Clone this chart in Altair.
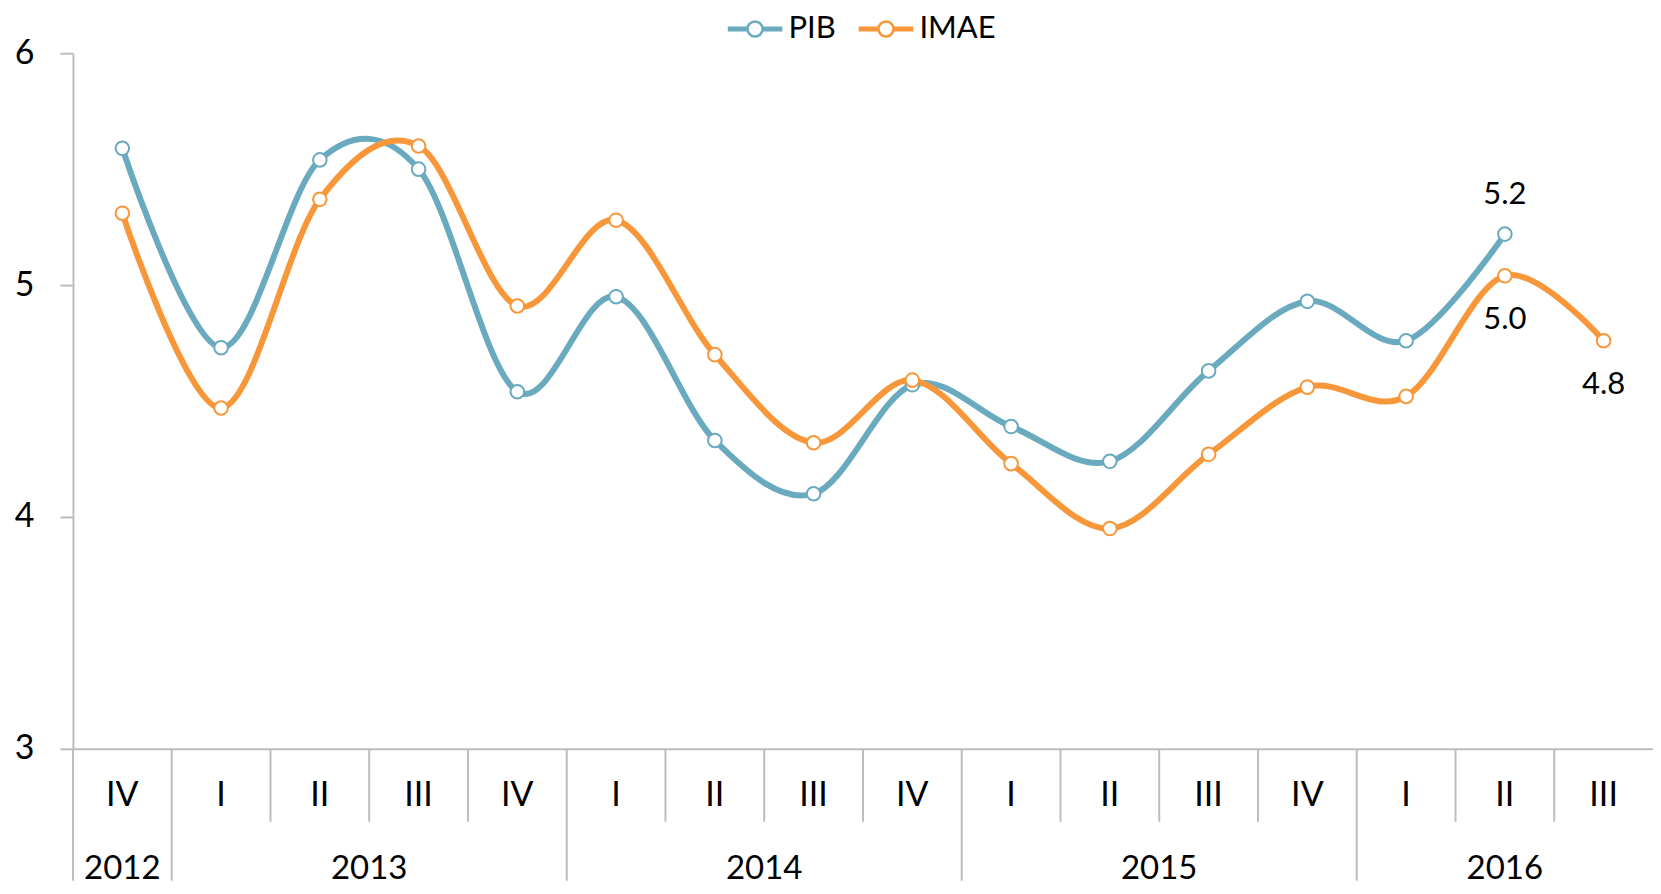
import altair as alt
import pandas as pd

# ---------------- data ----------------
quarters = ["IV", "I", "II", "III", "IV", "I", "II", "III", "IV",
            "I", "II", "III", "IV", "I", "II", "III"]
years = ["2012", "2013", "2013", "2013", "2013", "2014", "2014", "2014", "2014",
         "2015", "2015", "2015", "2015", "2016", "2016", "2016"]
pib = [5.59, 4.73, 5.54, 5.50, 4.54, 4.95, 4.33, 4.10, 4.57,
       4.39, 4.24, 4.63, 4.93, 4.76, 5.22, None]
imae = [5.31, 4.47, 5.37, 5.60, 4.91, 5.28, 4.70, 4.32, 4.59,
        4.23, 3.95, 4.27, 4.56, 4.52, 5.04, 4.76]
series_names = ["PIB", "IMAE"]
series_colors = ["#6aaabf", "#f7973a"]
y_ticks = [3, 4, 5, 6]
# annotated points: (index, series)
ann_above = [(14, "PIB")]
ann_below = [(14, "IMAE"), (15, "IMAE")]

# ---------------- tables ----------------
FONT = "Lato"
GRAY = "#bdbdbd"
W, H = 1581, 696

series_vals = {"PIB": pib, "IMAE": imae}
rows = []
for name in series_names:
    for i, v in enumerate(series_vals[name]):
        if v is not None:
            rows.append({"idx": i, "serie": name, "valor": v})
df = pd.DataFrame(rows)

cats = pd.DataFrame({"idx": list(range(len(quarters))), "trimestre": quarters, "anio": years})
year_df = cats.groupby("anio", as_index=False)["idx"].mean()

bounds = [{"pos": -0.5, "tipo": "anio"}]
for i in range(len(quarters) - 1):
    bounds.append({"pos": i + 0.5, "tipo": "anio" if years[i] != years[i + 1] else "trim"})
bounds_df = pd.DataFrame(bounds)

above_df = pd.DataFrame([{"idx": i, "serie": s, "valor": series_vals[s][i]} for i, s in ann_above])
below_df = pd.DataFrame([{"idx": i, "serie": s, "valor": series_vals[s][i]} for i, s in ann_below])

# ---------------- scales / axes ----------------
xs = alt.Scale(domain=[-0.5, len(quarters) - 0.5], nice=False, zero=False)
ys = alt.Scale(domain=[min(y_ticks), max(y_ticks)], nice=False, zero=False)

x_axis = alt.Axis(labels=False, ticks=False, grid=False, domain=True,
                  domainColor=GRAY, domainWidth=2, title=None)
y_axis = alt.Axis(values=y_ticks, tickSize=13, tickColor=GRAY, tickWidth=2,
                  domainColor=GRAY, domainWidth=2, labelFontSize=34, labelFont=FONT,
                  labelColor="black", labelPadding=26, grid=False, title=None, format="d")

# stroke-only legend symbol (unit = 13px): two bar segments and a ring,
# drawn to the right of the symbol centre so the 26px layout box stays compact
SYMBOL = ("M-1,-0.1 L0.34,-0.1 L0.34,0.1 L-1,0.1 Z "
          "M1.66,-0.1 L3,-0.1 L3,0.1 L1.66,0.1 Z "
          "M0.42,0 A0.58,0.58 0 1,1 1.58,0 A0.58,0.58 0 1,1 0.42,0 Z")

legend = alt.Legend(orient="none", legendX=654, legendY=-40, direction="horizontal",
                    title=None, labelFontSize=31, labelFont=FONT, labelColor="black",
                    symbolType=SYMBOL, symbolSize=676, symbolStrokeWidth=2.6,
                    symbolFillColor="white", symbolOpacity=1,
                    labelOffset=31, columnPadding=18)

serie_scale = alt.Scale(domain=series_names, range=series_colors)
color = alt.Color("serie:N", scale=serie_scale, legend=legend)

x_enc = alt.X("idx:Q", scale=xs, axis=x_axis)
y_enc = alt.Y("valor:Q", scale=ys, axis=y_axis)

# ---------------- layers ----------------
base = alt.Chart(df)
line = base.mark_line(interpolate="cardinal", strokeWidth=6).encode(
    x=x_enc, y=y_enc, color=color)
points = base.mark_point(shape="circle", filled=False, fill="white", fillOpacity=1,
                         size=185, strokeWidth=2, opacity=1).encode(
    x=x_enc, y=y_enc, color=color)

rules_q = alt.Chart(bounds_df).transform_filter("datum.tipo == 'trim'").mark_rule(
    color=GRAY, strokeWidth=2).encode(
    x=alt.X("pos:Q", scale=xs), y=alt.value(H), y2=alt.value(H + 73))
rules_y = alt.Chart(bounds_df).transform_filter("datum.tipo == 'anio'").mark_rule(
    color=GRAY, strokeWidth=2).encode(
    x=alt.X("pos:Q", scale=xs), y=alt.value(H), y2=alt.value(H + 132))

q_text = alt.Chart(cats).mark_text(fontSize=34, font=FONT, color="black",
                                   baseline="middle").encode(
    x=alt.X("idx:Q", scale=xs), y=alt.value(H + 47), text="trimestre:N")
y_text = alt.Chart(year_df).mark_text(fontSize=33, font=FONT, color="black",
                                      baseline="middle").encode(
    x=alt.X("idx:Q", scale=xs), y=alt.value(H + 120), text="anio:N")

a_above = alt.Chart(above_df).mark_text(fontSize=31, font=FONT, color="black",
                                        baseline="middle", dy=-39).encode(
    x=alt.X("idx:Q", scale=xs), y=alt.Y("valor:Q", scale=ys),
    text=alt.Text("valor:Q", format=".1f"))
a_below = alt.Chart(below_df).mark_text(fontSize=31, font=FONT, color="black",
                                        baseline="middle", dy=44).encode(
    x=alt.X("idx:Q", scale=xs), y=alt.Y("valor:Q", scale=ys),
    text=alt.Text("valor:Q", format=".1f"))

chart = alt.layer(rules_q, rules_y, line, points, q_text, y_text,
                  a_above, a_below).properties(
    width=W, height=H,
    padding={"left": 6, "top": 5, "right": 0, "bottom": 0},
    background="white",
).configure_view(stroke=None)

chart.save("out.html", embed_options={"renderer": "svg", "actions": False})
